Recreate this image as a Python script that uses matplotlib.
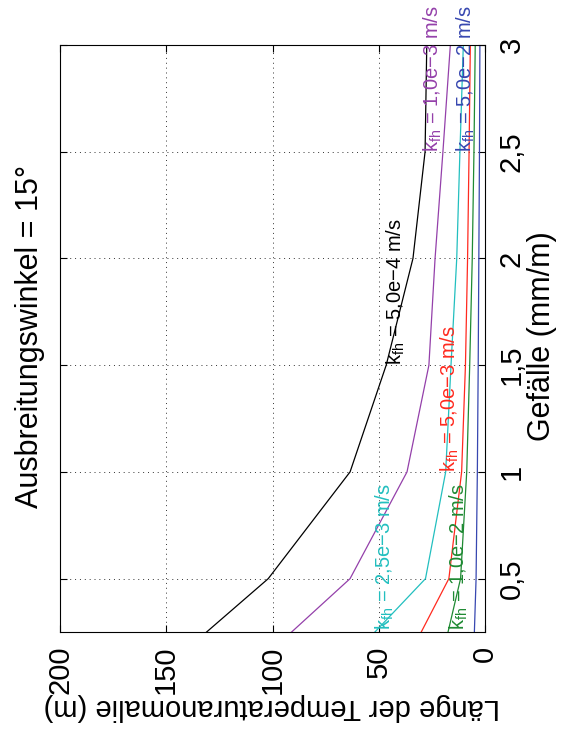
"""Rotated MATLAB-style line chart: anomaly length vs. slope for several k_fh values."""

import matplotlib

matplotlib.use("Agg")
import matplotlib.pyplot as plt

plt.rcParams["font.family"] = ["Liberation Sans", "DejaVu Sans"]
plt.rcParams["mathtext.default"] = "regular"

# slope (mm/m)
GEFAELLE = [0.25, 0.5, 1.0, 1.5, 2.0, 2.5, 3.0]

# anomaly length (m) per hydraulic conductivity
LAENGE_5E4 = [131, 102, 63.5, 46.5, 33.9, 28.2, 27.4]
LAENGE_1E3 = [91, 63.5, 36.7, 26.4, 23.5, 19.8, 16.3]
LAENGE_25E3 = [51.8, 28.0, 18.5, 16.0, 13.3, 11.8, 10.2]
LAENGE_5E3 = [30.0, 17.0, 11.0, 9.2, 8.2, 7.5, 6.9]
LAENGE_1E2 = [17.4, 11.5, 8.6, 7.2, 6.0, 5.2, 4.6]
LAENGE_5E2 = [5.0, 4.2, 3.6, 3.2, 2.9, 2.6, 2.4]

# label text, values, colour, label anchor (Länge, Gefälle)
SERIES = [
    ("5,0e−4", LAENGE_5E4, "#000000", (42, 1.5)),
    ("1,0e−3", LAENGE_1E3, "#9440aa", (24.5, 2.5)),
    ("2,5e−3", LAENGE_25E3, "#22bfbf", (47, 0.26)),
    ("5,0e−3", LAENGE_5E3, "#ff2a1f", (16.5, 1.0)),
    ("1,0e−2", LAENGE_1E2, "#1f8a33", (12.5, 0.26)),
    ("5,0e−2", LAENGE_5E2, "#3747b0", (9, 2.5)),
]

LAENGE_TICKS = [0, 50, 100, 150, 200]
GEFAELLE_TICKS = [0.5, 1.0, 1.5, 2.0, 2.5, 3.0]
GEFAELLE_TICKLABELS = ["0,5", "1", "1,5", "2", "2,5", "3"]

W, H = 565, 736
fig = plt.figure(figsize=(W / 100, H / 100), dpi=100)
ax = fig.add_axes([60 / W, 1 - 632 / H, 425 / W, 587 / H])

for kfh, values, color, (lx, ly) in SERIES:
    ax.plot(values, GEFAELLE, color=color, linewidth=0.9)
    ax.text(lx, ly, f"k$_{{fh}}$ = {kfh} m/s", color=color, fontsize=14.5,
            rotation=90, rotation_mode="anchor", ha="left", va="center",
            clip_on=False)

ax.set_xlim(200, 0)
ax.set_ylim(0.25, 3)
ax.set_xticks(LAENGE_TICKS)
ax.set_xticklabels([str(v) for v in LAENGE_TICKS])
ax.set_yticks(GEFAELLE_TICKS)
ax.set_yticklabels(GEFAELLE_TICKLABELS)
ax.yaxis.tick_right()
ax.tick_params(direction="in", length=5, width=0.8, top=True, bottom=True,
               left=True, right=True, labelsize=21)
ax.tick_params(axis="x", labelrotation=90, pad=10)
ax.tick_params(axis="y", labelrotation=90, pad=9)
for lab in ax.get_yticklabels():
    lab.set_va("center")
ax.grid(True, color="#333333", linestyle=(0, (1, 4)), linewidth=0.7)
for sp in ax.spines.values():
    sp.set_linewidth(0.8)

fig.text(30 / W, 1 - 336 / H, "Ausbreitungswinkel = 15°", rotation=90,
         ha="center", va="center", fontsize=22)
fig.text(542 / W, 1 - 336 / H, "Gefälle (mm/m)", rotation=90,
         ha="center", va="center", fontsize=22)
fig.text(272 / W, 1 - 707 / H, "Länge der Temperaturanomalie (m)", rotation=180,
         ha="center", va="center", fontsize=21)

fig.savefig("out.png", dpi=100)
